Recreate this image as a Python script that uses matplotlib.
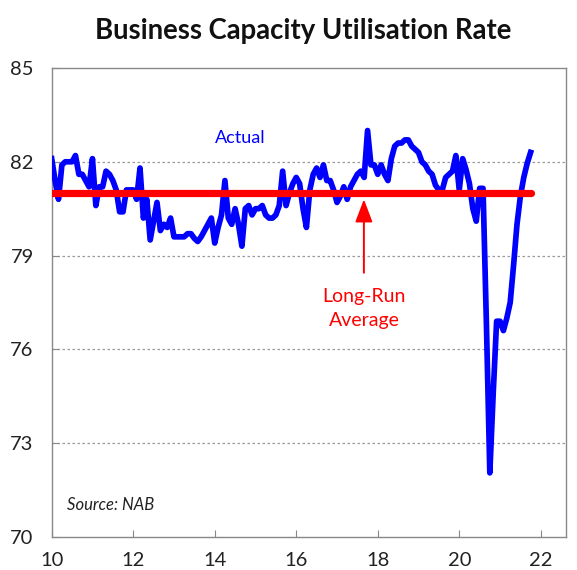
import numpy as np
import matplotlib.pyplot as plt

# monthly capacity utilisation (%), starting at 10.0 on the axis
utilisation = [
    82.1, 81.4, 80.8, 81.9, 82.0, 82.0, 82.0, 82.2, 81.6, 81.6, 81.4, 81.2,
    82.1, 80.6, 81.2, 81.2, 81.7, 81.6, 81.4, 81.1, 80.4, 80.4, 81.1, 81.1,
    81.1, 80.8, 81.8, 80.2, 80.8, 79.5, 80.1, 80.7, 79.8, 80.0, 79.9, 80.2,
    79.6, 79.6, 79.6, 79.6, 79.7, 79.7, 79.55, 79.45, 79.6, 79.8, 80.0, 80.2,
    79.4, 79.9, 80.3, 81.4, 80.2, 80.0, 80.5, 80.0, 79.3, 80.5, 80.6, 80.3,
    80.5, 80.5, 80.6, 80.3, 80.2, 80.2, 80.3, 80.6, 81.7, 80.6, 81.0, 81.3,
    81.5, 81.3, 80.5, 79.9, 81.1, 81.6, 81.8, 81.5, 81.9, 81.4, 81.4, 81.1,
    80.7, 80.9, 81.2, 80.8, 81.2, 81.4, 81.6, 81.7, 81.5, 83.0, 81.9, 81.9,
    81.6, 81.9, 81.6, 81.4, 82.1, 82.5, 82.6, 82.6, 82.7, 82.7, 82.5, 82.4,
    82.3, 82.0, 81.9, 81.7, 81.6, 81.25, 81.1, 81.1, 81.5, 81.6, 81.7, 82.2,
    81.1, 82.1, 81.75, 81.3, 80.5, 80.1, 81.15, 81.15, 76.8, 72.05, 74.6, 76.9,
    76.9, 76.6, 77.0, 77.5, 78.7, 80.0, 80.9, 81.5, 81.95, 82.3,
]
start_year = 10
long_run_avg = 81.0
y_ticks = [70, 73, 76, 79, 82, 85]
x_ticks = [10, 12, 14, 16, 18, 20, 22]

years = start_year + np.arange(len(utilisation)) / 12

plt.rcParams['font.family'] = ['Lato', 'DejaVu Sans']

fig = plt.figure(figsize=(5.77, 5.70), dpi=100)
ax = fig.add_axes([0.0896, 0.058, 0.8914, 0.8227])

ax.plot(years, utilisation, color='#0000ff', lw=4.1, solid_joinstyle='round', zorder=3)
ax.plot([years[0], years[-1]], [long_run_avg, long_run_avg], color='#ff0000',
        lw=5.2, solid_capstyle='round', zorder=4)

ax.set_xlim(10, 22.62)
ax.set_ylim(70, 85)
ax.set_xticks(x_ticks)
ax.set_xticklabels([str(t) for t in x_ticks])
ax.set_yticks(y_ticks)
ax.set_yticklabels([str(t) for t in y_ticks])
ax.tick_params(axis='both', direction='in', length=5, width=0.8, color='#888888',
               labelsize=14.5, labelcolor='#222222')
ax.tick_params(axis='x', pad=11)
ax.tick_params(axis='y', pad=13)
for s in ax.spines.values():
    s.set_color('#888888')
    s.set_linewidth(1.0)
for v in [73, 76, 79, 82]:
    ax.axhline(v, color='#999999', lw=0.9, ls=(0, (2, 2)), zorder=1)

ax.text(14.62, 82.76, 'Actual', color='#0000ff', fontsize=13, ha='center', va='center')
ax.text(17.66, 77.3, 'Long-Run\nAverage', color='#ff0000', fontsize=14,
        ha='center', va='center', linespacing=1.5)
ax.annotate('', xy=(17.66, 80.8), xytext=(17.66, 78.45),
            arrowprops=dict(arrowstyle='-|>,head_length=1.0,head_width=0.38',
                            color='#ff0000', lw=1.4,
                            mutation_scale=14, shrinkA=0, shrinkB=0))
ax.text(10.37, 71.03, 'Source: NAB', fontsize=12, style='italic', ha='left', va='center',
        color='#222222')

fig.text(0.525, 0.945, 'Business Capacity Utilisation Rate', fontsize=19.8,
         fontweight='bold', ha='center', va='center', color='#111111')

fig.savefig('out.png', dpi=100)
